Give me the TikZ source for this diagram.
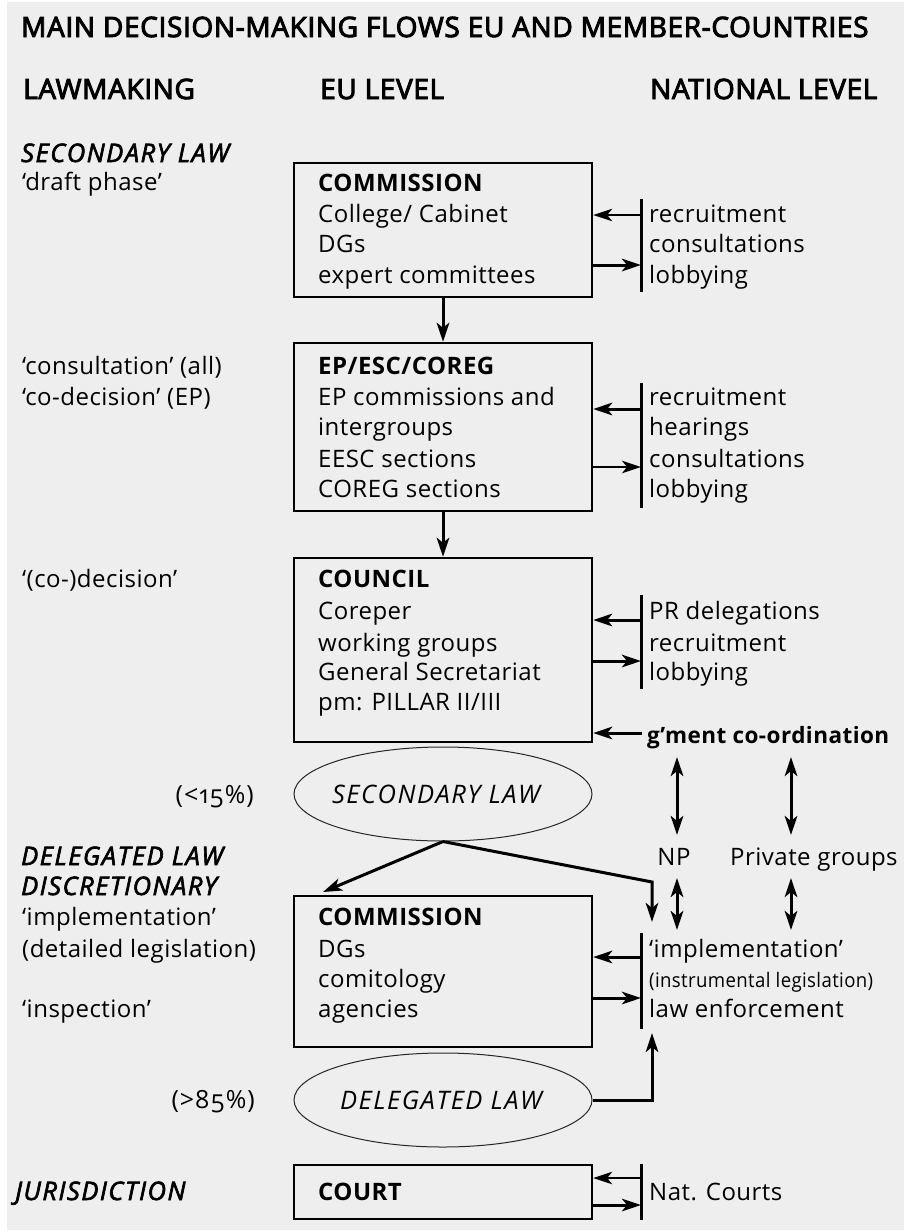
\documentclass[tikz,border=0pt]{standalone}
\usepackage{fontspec}
\setmainfont[LetterSpace=2]{Open Sans}
\newfontfamily\semib[FakeBold=3.5,LetterSpace=2.3]{Open Sans}
\newfontfamily\semiit[FakeBold=2.5,LetterSpace=6]{Open Sans}
\newfontfamily\itsp[LetterSpace=6]{Open Sans}
\newfontfamily\oldnum[Numbers=OldStyle,LetterSpace=4]{Open Sans}
\usetikzlibrary{arrows.meta,shapes.geometric}
\definecolor{bggray}{HTML}{EEEEEE}
\tikzset{
  ttl/.style={anchor=base west, inner sep=0pt, font=\semib\fontsize{28}{30}\selectfont},
  lbl/.style={anchor=base west, inner sep=0pt, font=\fontsize{24}{28}\selectfont},
  lhead/.style={anchor=base west, inner sep=0pt, font=\semiit\itshape\fontsize{25.5}{28}\selectfont},
  pct/.style={anchor=base east, inner sep=0pt, font=\oldnum\fontsize{25}{28}\selectfont},
  bhead/.style={anchor=base west, inner sep=0pt, font=\bfseries\fontsize{24}{28}\selectfont},
  nat/.style={anchor=base west, inner sep=0pt, font=\fontsize{24}{28}\selectfont},
  box/.style={draw, line width=2.4pt, minimum width=298pt, inner sep=0pt},
  ell/.style={draw=black!85, ellipse, line width=1pt, minimum width=298pt, minimum height=94pt, inner sep=0pt},
  elltext/.style={anchor=base, inner sep=0pt, font=\itsp\itshape\fontsize{25.5}{28}\selectfont},
  barline/.style={line width=3pt},
  tip/.tip={Stealth[length=19pt,width=12.5pt,inset=5pt]},
  thk/.style={line width=3pt, -tip},
  thn/.style={line width=1.8pt, -tip},
  dbl/.style={line width=3pt, tip-tip},
}
\begin{document}
\begin{tikzpicture}[x=1pt,y=-1pt]
\useasboundingbox (0,0) rectangle (904,1232);
\fill[white] (0,0) rectangle (904,1232);
\fill[bggray] (7,2) rectangle (904,1230);

% title and headers
\node[ttl] (title) at (21,37) {MAIN DECISION-MAKING FLOWS EU AND MEMBER-COUNTRIES};
\node[ttl] (hL) at (23,99) {LAWMAKING};
\node[ttl] (hE) at (320,99) {EU LEVEL};
\node[ttl] (hN) at (650,99) {NATIONAL LEVEL};

% left column
\node[lhead] (sl) at (21,162) {SECONDARY LAW};
\node[lbl] (dp) at (22,190) {‘draft phase’};
\node[lbl] (ca) at (22,374) {‘consultation’ (all)};
\node[lbl] (cd) at (22,405) {‘co-decision’ (EP)};
\node[lbl] (cod) at (22,587) {‘(co-)decision’};
\node[pct] (p15) at (254,803) {(<15\%)};
\node[lhead] (dl) at (21,865) {DELEGATED LAW};
\node[lhead] (disc) at (21,895) {DISCRETIONARY};
\node[lbl] (impl) at (22,925) {‘implementation’};
\node[lbl] (det) at (22,957) {(detailed legislation)};
\node[lbl] (insp) at (22,1017) {‘inspection’};
\node[pct] (p85) at (255,1108) {(>85\%)};
\node[lhead] (jur) at (15,1200) {JURISDICTION};

% EU level boxes
\node[box, minimum height=134pt] (box1) at (443,230) {};
\node[bhead] (b1a) at (318,191) {COMMISSION};
\node[lbl] (b1b) at (318,222) {College/ Cabinet};
\node[lbl] (b1c) at (318,252) {DGs};
\node[lbl] (b1d) at (318,283) {expert committees};

\node[box, minimum height=168pt] (box2) at (443,427) {};
\node[bhead] (b2a) at (318,374) {EP/ESC/COREG};
\node[lbl] (b2b) at (318,405) {EP commissions and};
\node[lbl] (b2c) at (318,435) {intergroups};
\node[lbl] (b2d) at (318,467) {EESC sections};
\node[lbl] (b2e) at (318,497) {COREG sections};

\node[box, minimum height=184pt] (box3) at (443,650) {};
\node[bhead] (b3a) at (318,587) {COUNCIL};
\node[lbl] (b3b) at (318,619) {Coreper};
\node[lbl] (b3c) at (318,651) {working groups};
\node[lbl] (b3d) at (318,680) {General Secretariat};
\node[lbl] (b3e) at (318,710) {pm: PILLAR II/III};

\node[ell] (ell1) at (443,794) {};
\node[elltext] (e1t) at (436,803) {SECONDARY LAW};

\node[box, minimum height=151pt] (box4) at (443,971.5) {};
\node[bhead] (b4a) at (318,925) {COMMISSION};
\node[lbl] (b4b) at (318,957) {DGs};
\node[lbl] (b4c) at (318,987) {comitology};
\node[lbl] (b4d) at (318,1017) {agencies};

\node[ell] (ell2) at (443,1100) {};
\node[elltext] (e2t) at (441,1109) {DELEGATED LAW};

\node[box, minimum height=54pt] (box5) at (443,1192) {};
\node[bhead] (b5a) at (318,1200) {COURT};

% vertical flows
\draw[thk] (box1.south) -- (box2.north);
\draw[thk] (box2.south) -- (box3.north);

% national level: bar 1
\coordinate (r1t) at (641,199); \coordinate (r1b) at (641,292);
\draw[barline] (r1t) -- (r1b);
\node[nat] (n1a) at (649,222) {recruitment};
\node[nat] (n1b) at (649,252) {consultations};
\node[nat] (n1c) at (649,283) {lobbying};
\coordinate (r1x) at (641,215); \coordinate (r1y) at (641,265);
\draw[thn] (r1x) -- (r1x -| box1.east);
\draw[thk] (r1y -| box1.east) -- (r1y);

% bar 2
\coordinate (r2t) at (641,383); \coordinate (r2b) at (641,508);
\draw[barline] (r2t) -- (r2b);
\node[nat] (n2a) at (649,405) {recruitment};
\node[nat] (n2b) at (649,435) {hearings};
\node[nat] (n2c) at (649,467) {consultations};
\node[nat] (n2d) at (649,497) {lobbying};
\coordinate (r2x) at (641,409); \coordinate (r2y) at (641,467);
\draw[thk] (r2x) -- (r2x -| box2.east);
\draw[thn] (r2y -| box2.east) -- (r2y);

% bar 3
\coordinate (r3t) at (641,595); \coordinate (r3b) at (641,689);
\draw[barline] (r3t) -- (r3b);
\node[nat] (n3a) at (649,619) {PR delegations};
\node[nat] (n3b) at (649,651) {recruitment};
\node[nat] (n3c) at (649,680) {lobbying};
\coordinate (r3x) at (641,620); \coordinate (r3y) at (641,661);
\draw[thk] (r3x) -- (r3x -| box3.east);
\draw[thk] (r3y -| box3.east) -- (r3y);

% government co-ordination
\node[anchor=base west, inner sep=0pt, font=\bfseries\fontsize{22.5}{28}\selectfont] (gm) at (647,743) {g’ment co-ordination};
\coordinate (gx) at (642,733);
\draw[thk] (gx) -- (gx -| box3.east);

% NP and private groups
\node[nat, anchor=base] (np) at (674,865) {NP};
\node[nat] (pg) at (730,865) {Private groups};
\coordinate (np1) at (677,757); \coordinate (np2) at (677,835);
\coordinate (np3) at (677,878); \coordinate (np4) at (677,930);
\coordinate (pg1) at (791,757); \coordinate (pg2) at (791,835);
\coordinate (pg3) at (791,878); \coordinate (pg4) at (791,930);
\draw[dbl] (np1) -- (np2);
\draw[dbl] (np3) -- (np4);
\draw[dbl] (pg1) -- (pg2);
\draw[dbl] (pg3) -- (pg4);

% flows from secondary law
\coordinate (t1) at (323,892);
\coordinate (c1) at (652,882); \coordinate (t2) at (652,922);
\draw[thk] (ell1.south) -- (t1);
\draw[thk] (ell1.south) -- (c1) -- (t2);

% bar 4
\coordinate (r4t) at (641,933); \coordinate (r4b) at (641,1029);
\draw[barline] (r4t) -- (r4b);
\node[nat] (n4a) at (649,957) {‘implementation’};
\node[anchor=base west, inner sep=0pt, font=\fontsize{20}{24}\selectfont, xscale=0.93] (n4b) at (649,987) {(instrumental legislation)};
\node[nat] (n4c) at (649,1017) {law enforcement};
\coordinate (r4x) at (641,957); \coordinate (r4y) at (641,998);
\draw[thk] (r4x) -- (r4x -| box4.east);
\draw[thk] (r4y -| box4.east) -- (r4y);

% delegated law to implementation
\coordinate (t3) at (652,1033);
\draw[thk] (ell2.east) -| (t3);

% bar 5
\coordinate (r5t) at (641,1164); \coordinate (r5b) at (641,1220);
\draw[barline] (r5t) -- (r5b);
\node[nat] (n5a) at (649,1200) {Nat. Courts};
\coordinate (r5x) at (641,1178); \coordinate (r5y) at (641,1205);
\draw[thn] (r5x) -- (r5x -| box5.east);
\draw[thk] (r5y -| box5.east) -- (r5y);
\end{tikzpicture}
\end{document}
